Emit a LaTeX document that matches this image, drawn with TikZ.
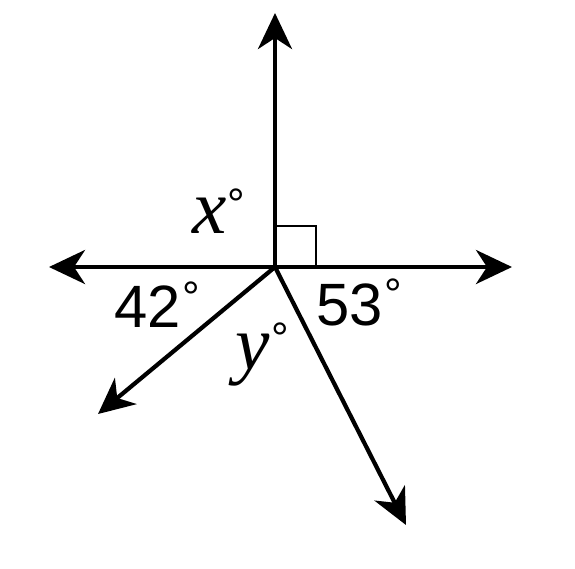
\documentclass[tikz,border=0pt]{standalone}
\usepackage{fontspec}
\setmainfont{Liberation Serif}
\newfontfamily\numfont{Liberation Sans}
\usetikzlibrary{arrows.meta}
\tikzset{
  ray/.style={line width=2.4pt,-{Stealth[length=0.72cm,width=0.68cm,inset=0.22cm]}},
  ang/.style={font=\numfont\fontsize{34}{34}\selectfont,inner sep=0pt},
  var/.style={font=\fontsize{44}{44}\selectfont\itshape,inner sep=0pt},
  deg/.style={font=\numfont\fontsize{25}{25}\selectfont,inner sep=0pt}
}
\begin{document}
\begin{tikzpicture}[>=Stealth]
\useasboundingbox (-5.5,5.34) rectangle (6.0,-6.02);
\coordinate (O) at (0,0);
\coordinate (up) at (0,5.08);
\coordinate (lt) at (-4.52,0);
\coordinate (rt) at (4.74,0);
\coordinate (dl) at (-3.54,-2.94);
\coordinate (dr) at (2.62,-5.16);
\draw[line width=1.1pt](O) rectangle (0.82,0.82);
\draw[ray](O)--(up);
\draw[ray](O)--(lt);
\draw[ray](O)--(rt);
\draw[ray](O)--(dl);
\draw[ray](O)--(dr);
\node[var] (x) at (-1.3,1.02){x};
\node[deg] (xd) at (-0.78,1.26){°};
\node[ang] (a42) at (-2.54,-0.8){42};
\node[deg] (a42d) at (-1.68,-0.6){°};
\node[ang] (a53) at (1.5,-0.76){53};
\node[deg] (a53d) at (2.36,-0.54){°};
\node[var] (y) at (-0.44,-1.86){y};
\node[deg] (yd) at (0.1,-1.42){°};
\end{tikzpicture}
\end{document}
